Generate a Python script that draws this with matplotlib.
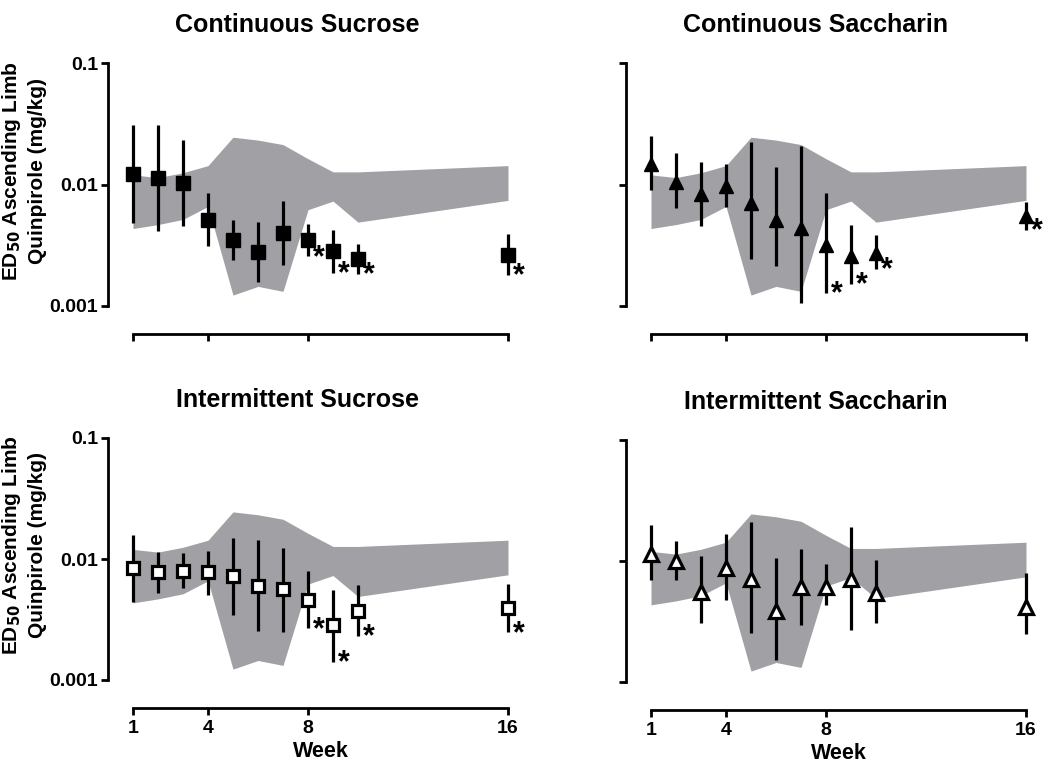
import numpy as np
import matplotlib
matplotlib.use('Agg')
import matplotlib.pyplot as plt

plt.rcParams['font.family'] = ['Liberation Sans', 'DejaVu Sans']
plt.rcParams['font.weight'] = 'bold'

weeks = [1, 2, 3, 4, 5, 6, 7, 8, 9, 10, 16]

# grey reference band (same in every panel)
band_lo = [0.00434, 0.00468, 0.00516, 0.0066, 0.00123, 0.00145, 0.00132, 0.0062, 0.0073, 0.0049, 0.0074]
band_hi = [0.0120, 0.0114, 0.0125, 0.0143, 0.0245, 0.0232, 0.0213, 0.0163, 0.0127, 0.0127, 0.0143]

titles = ['Continuous Sucrose', 'Continuous Saccharin',
          'Intermittent Sucrose', 'Intermittent Saccharin']

cont_sucrose = [0.0123, 0.0113, 0.0102, 0.00507, 0.00347, 0.00277, 0.00399, 0.00347, 0.00282, 0.00245, 0.00261]
cont_sucrose_hi = [0.0307, 0.0307, 0.0231, 0.00851, 0.00507, 0.00491, 0.00731, 0.0047, 0.00425, 0.00326, 0.00393]
cont_sucrose_lo = [0.00482, 0.00414, 0.00453, 0.0031, 0.00238, 0.00158, 0.00219, 0.00256, 0.00187, 0.00185, 0.00179]

cont_sacch = [0.0147, 0.0105, 0.0083, 0.00973, 0.00708, 0.00515, 0.0044, 0.0032, 0.00256, 0.00273, 0.0055]
cont_sacch_hi = [0.0252, 0.018, 0.0153, 0.0147, 0.0222, 0.014, 0.0206, 0.00845, 0.00468, 0.00387, 0.00721]
cont_sacch_lo = [0.009, 0.00643, 0.00459, 0.00656, 0.00243, 0.00212, 0.00105, 0.00129, 0.00152, 0.00201, 0.0042]

int_sucrose = [0.00835, 0.00784, 0.00798, 0.00774, 0.00727, 0.00601, 0.00564, 0.00457, 0.00284, 0.00373, 0.0039]
int_sucrose_hi = [0.0157, 0.01146, 0.01124, 0.01168, 0.01503, 0.0143, 0.01244, 0.00789, 0.00553, 0.00608, 0.0062]
int_sucrose_lo = [0.00443, 0.00526, 0.00572, 0.00504, 0.00344, 0.00255, 0.0025, 0.00267, 0.00142, 0.00231, 0.00247]

int_sacch = [0.01153, 0.01, 0.00556, 0.00868, 0.00716, 0.00387, 0.00604, 0.00611, 0.00708, 0.00548, 0.00418]
int_sacch_hi = [0.02, 0.0147, 0.01096, 0.01657, 0.0211, 0.0105, 0.01268, 0.00936, 0.0192, 0.01028, 0.00798]
int_sacch_lo = [0.00693, 0.00703, 0.00308, 0.00474, 0.00255, 0.00151, 0.00294, 0.0043, 0.00271, 0.00308, 0.00248]

# weeks marked significant (*)
sig_weeks = [[8, 9, 10, 16], [8, 9, 10, 16], [8, 9, 10, 16], []]

series = [(cont_sucrose, cont_sucrose_lo, cont_sucrose_hi),
          (cont_sacch, cont_sacch_lo, cont_sacch_hi),
          (int_sucrose, int_sucrose_lo, int_sucrose_hi),
          (int_sacch, int_sacch_lo, int_sacch_hi)]
marker_styles = [dict(marker='s', ms=9.5, mfc='black', mec='black', mew=1),
                 dict(marker='^', ms=10, mfc='black', mec='black', mew=1),
                 dict(marker='s', ms=9, mfc='white', mec='black', mew=2.3),
                 dict(marker='^', ms=9.5, mfc='white', mec='black', mew=2.3)]

fig = plt.figure(figsize=(10.5, 7.69), dpi=100)
W, H = 1050, 769
rects = [(108, 63, 306), (626, 63, 306), (108, 438, 680), (626, 440, 682)]

for i, (x0, ytop, ybot) in enumerate(rects):
    ax = fig.add_axes([x0 / W, 1 - ybot / H, 425 / W, (ybot - ytop) / H])
    val, lo, hi = [np.array(s) for s in series[i]]
    ax.fill_between(weeks, band_lo, band_hi, color='#a0a0a5', lw=0, zorder=1)
    ax.errorbar(weeks, val, yerr=[val - lo, hi - val], fmt='none',
                ecolor='black', elinewidth=2.3, capsize=0, zorder=2)
    ax.plot(weeks, val, ls='none', zorder=3, **marker_styles[i])
    for w in sig_weeks[i]:
        k = weeks.index(w)
        ax.annotate('*', (w, lo[k]), xytext=(8, -1), textcoords='offset points',
                    ha='center', va='center', fontsize=22, fontweight='bold')

    ax.set_yscale('log')
    ax.set_ylim(0.001, 0.1)
    ax.set_xlim(0, 17)
    ax.set_yticks([0.001, 0.01, 0.1])
    ax.yaxis.set_minor_locator(matplotlib.ticker.NullLocator())
    ax.set_xticks([1, 4, 8, 16])
    for s in ['top', 'right']:
        ax.spines[s].set_visible(False)
    ax.spines['left'].set_bounds(0.001, 0.1)
    ax.spines['bottom'].set_bounds(1, 16)
    ax.spines['bottom'].set_position(('outward', 20))
    for s in ['left', 'bottom']:
        ax.spines[s].set_linewidth(2)
    ax.tick_params(width=2, length=5, labelsize=14, pad=2)
    ax.tick_params(axis='x', pad=4)

    if i % 2 == 0:
        ax.set_yticklabels(['0.001', '0.01', '0.1'])
        ax.set_ylabel('ED$_{\\mathbf{50}}$ Ascending Limb\nQuinpirole (mg/kg)',
                      fontsize=15, fontweight='bold', linespacing=1.35)
        ax.yaxis.set_label_coords(-0.143, 0.556)
    else:
        ax.set_yticklabels([])
    if i < 2:
        ax.set_xticklabels([])
    else:
        ax.set_xticklabels(['1', '4', '8', '16'])
        ax.set_xlabel('Week', fontsize=15.5, fontweight='bold', labelpad=3)

    ax.set_title(titles[i], x=0.446, pad=22, fontsize=18, fontweight='bold')

fig.savefig('out.png', dpi=100)
